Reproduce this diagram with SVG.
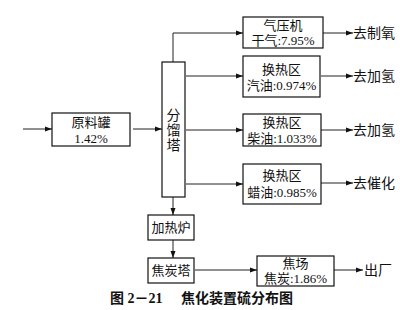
<svg xmlns="http://www.w3.org/2000/svg" width="400" height="310" viewBox="0 0 400 310">
<defs>
<marker id="ah" markerWidth="8" markerHeight="6" refX="7" refY="3" orient="auto" markerUnits="userSpaceOnUse">
<path d="M0,0.5 L7,3 L0,5.5 Z" fill="#111"/>
</marker>
</defs>
<style>
.box{fill:#fff;stroke:#111;stroke-width:1.2}
.ln{fill:none;stroke:#222;stroke-width:1}
.t{font-family:"Liberation Serif","Noto Sans CJK SC",serif;font-size:13px;fill:#111;text-anchor:middle}
.o{font-family:"Liberation Serif","Noto Sans CJK SC",serif;font-size:14px;fill:#111}
.cap{font-family:"Liberation Serif","Noto Sans CJK SC",serif;font-size:14px;fill:#111;font-weight:bold}
</style>
<rect width="400" height="310" fill="#fff"/>
<g id="connectors">
<line class="ln" x1="23" y1="129" x2="52" y2="129" marker-end="url(#ah)"/>
<line class="ln" x1="133" y1="129" x2="162" y2="129" marker-end="url(#ah)"/>
<polyline class="ln" points="173,62 173,33 243,33" marker-end="url(#ah)"/>
<line class="ln" x1="186" y1="76" x2="243" y2="76" marker-end="url(#ah)"/>
<line class="ln" x1="186" y1="130" x2="243" y2="130" marker-end="url(#ah)"/>
<line class="ln" x1="186" y1="184" x2="243" y2="184" marker-end="url(#ah)"/>
<line class="ln" x1="173" y1="197" x2="173" y2="215" marker-end="url(#ah)"/>
<line class="ln" x1="173" y1="240" x2="173" y2="258" marker-end="url(#ah)"/>
<line class="ln" x1="195" y1="270" x2="257" y2="270" marker-end="url(#ah)"/>
<line class="ln" x1="323" y1="33" x2="353" y2="33" marker-end="url(#ah)"/>
<line class="ln" x1="321" y1="76" x2="353" y2="76" marker-end="url(#ah)"/>
<line class="ln" x1="321" y1="130" x2="353" y2="130" marker-end="url(#ah)"/>
<line class="ln" x1="321" y1="183" x2="353" y2="183" marker-end="url(#ah)"/>
<line class="ln" x1="334" y1="270" x2="363" y2="270" marker-end="url(#ah)"/>
</g>
<g id="feed">
<rect class="box" x="52" y="113" width="78" height="33"/>
<text class="t" x="91" y="127">原料罐</text>
<text class="t" x="91" y="143">1.42%</text>
</g>
<g id="column">
<rect class="box" x="162" y="62" width="23" height="135"/>
<text class="t" x="173.5" y="120" style="font-size:14px">分</text>
<text class="t" x="173.5" y="135" style="font-size:14px">馏</text>
<text class="t" x="173.5" y="150" style="font-size:14px">塔</text>
</g>
<g id="compressor">
<rect class="box" x="243" y="17" width="80" height="31"/>
<text class="t" x="283" y="30">气压机</text>
<text class="t" x="283" y="45">干气:7.95%</text>
</g>
<g id="hx-gasoline">
<rect class="box" x="243" y="56" width="77" height="41"/>
<text class="t" x="281.5" y="74">换热区</text>
<text class="t" x="281.5" y="90">汽油:0.974%</text>
</g>
<g id="hx-diesel">
<rect class="box" x="243" y="114" width="78" height="32"/>
<text class="t" x="282" y="127">换热区</text>
<text class="t" x="282" y="143">柴油:1.033%</text>
</g>
<g id="hx-wax">
<rect class="box" x="243" y="164" width="78" height="40"/>
<text class="t" x="282" y="180">换热区</text>
<text class="t" x="282" y="197">蜡油:0.985%</text>
</g>
<g id="furnace">
<rect class="box" x="148" y="215" width="46" height="25"/>
<text class="t" x="171" y="232">加热炉</text>
</g>
<g id="coker">
<rect class="box" x="148" y="258" width="46" height="25"/>
<text class="t" x="171" y="275">焦炭塔</text>
</g>
<g id="coke-yard">
<rect class="box" x="257" y="256" width="77" height="30"/>
<text class="t" x="295.5" y="268">焦场</text>
<text class="t" x="295.5" y="283">焦炭:1.86%</text>
</g>
<g id="outputs">
<text class="o" x="353" y="38">去制氧</text>
<text class="o" x="353" y="81">去加氢</text>
<text class="o" x="353" y="135">去加氢</text>
<text class="o" x="353" y="188">去催化</text>
<text class="o" x="364" y="275">出厂</text>
</g>
<g id="caption">
<text class="cap" x="110" y="303">图 2－21</text>
<text class="cap" x="181" y="303">焦化装置硫分布图</text>
</g>
</svg>
